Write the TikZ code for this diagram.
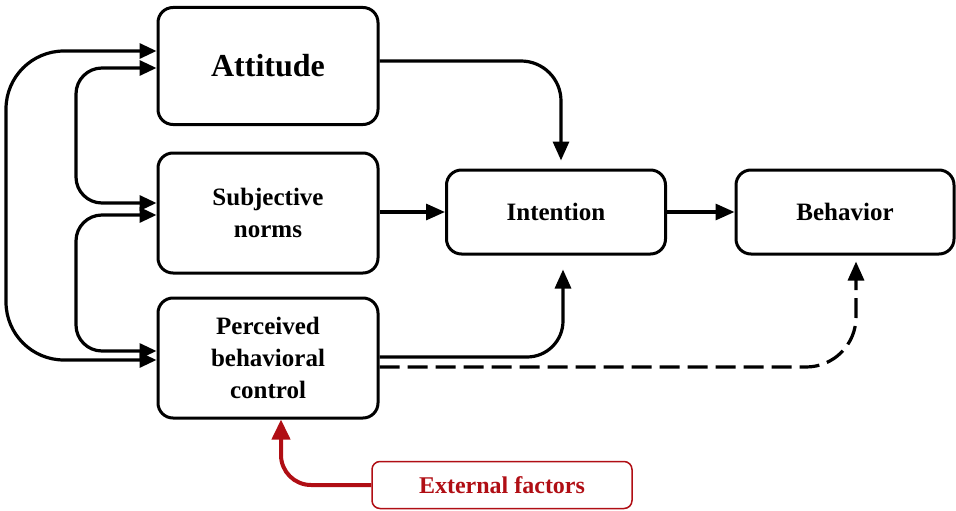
\documentclass[tikz,border=0pt]{standalone}
\usepackage{fontspec}
\setmainfont{Liberation Serif}
\usetikzlibrary{arrows.meta,calc}
\definecolor{dred}{RGB}{176,14,20}
\begin{document}
\begin{tikzpicture}[x=1pt,y=-1pt,
  box/.style={draw=black,line width=3pt,rounded corners=15pt,fill=white,align=center,
    font=\fontsize{25}{32}\selectfont\bfseries,inner sep=0pt},
  arr/.style={line width=3.2pt,-{Triangle[length=19pt,width=16pt]}},
  arrboth/.style={line width=3.2pt,{Triangle[length=17pt,width=15pt]}-{Triangle[length=17pt,width=15pt]}},
  redarr/.style={draw=dred,line width=4pt,-{Triangle[length=20pt,width=18pt]}}]
\useasboundingbox (0,0) rectangle (956,511);
\node[box,minimum width=220pt,minimum height=117pt,font=\fontsize{32}{36}\selectfont\bfseries] (att) at (268,66) {Attitude};
\node[box,minimum width=220pt,minimum height=120pt] (sn) at (268,213) {Subjective\\norms};
\node[box,minimum width=220pt,minimum height=120pt] (pbc) at (268,358) {Perceived\\behavioral\\control};
\node[box,minimum width=219pt,minimum height=84pt] (int) at (556,212) {Intention};
\node[box,minimum width=218pt,minimum height=84pt] (beh) at (845,212) {Behavior};
\node[draw=dred,line width=1.5pt,rounded corners=8pt,minimum width=260pt,minimum height=47pt,
  text=dred,font=\fontsize{24}{28}\selectfont\bfseries,inner sep=0pt] (ef) at (502,485) {External factors};
% left feedback loops
\draw[arrboth,rounded corners=58pt] ($(att.west)+(0,-15)$) -| (6,205) |- ($(pbc.west)+(0,2)$);
\draw[arrboth,rounded corners=26pt] ($(att.west)+(0,2)$) -| (76,130) |- ($(sn.west)+(0,-10)$);
\draw[arrboth,rounded corners=26pt] ($(sn.west)+(0,2)$) -| (76,280) |- ($(pbc.west)+(0,-7)$);
% to intention
\draw[arr,rounded corners=40pt,shorten >=8pt] ($(att.east)+(0,-5)$) -| ($(int.north)+(5,0)$);
\draw[arr] (sn.east |- int.west) -- (int.west);
\draw[arr,rounded corners=36pt,shorten >=14pt] ($(pbc.east)+(0,-1)$) -| ($(int.south)+(7,0)$);
\draw[arr] (int.east) -- (beh.west);
\draw[arr,dash pattern=on 20pt off 8pt,rounded corners=50pt,shorten >=6pt] ($(pbc.east)+(0,9)$) -| ($(beh.south)+(11,0)$);
% external factors
\draw[redarr,rounded corners=30pt] (ef.west) -| ($(pbc.south)+(13,0)$);
\end{tikzpicture}
\end{document}
